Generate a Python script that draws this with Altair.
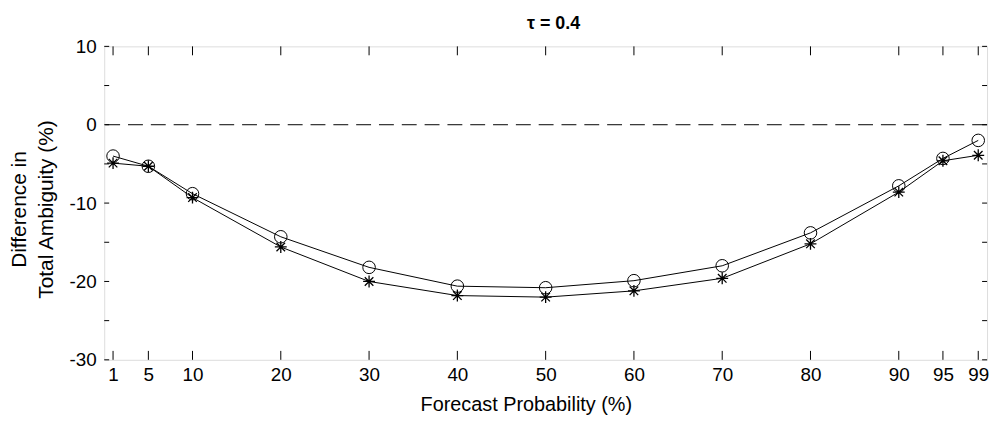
import altair as alt
import pandas as pd

# ---- data ----
prob = [1, 5, 10, 20, 30, 40, 50, 60, 70, 80, 90, 95, 99]
circle_vals = [-4.0, -5.3, -8.8, -14.3, -18.2, -20.6, -20.8, -19.9, -18.0, -13.8, -7.8, -4.3, -2.0]
star_vals = [-4.9, -5.3, -9.3, -15.6, -20.0, -21.8, -22.0, -21.2, -19.6, -15.2, -8.6, -4.6, -3.9]
x_ticks = [1, 5, 10, 20, 30, 40, 50, 60, 70, 80, 90, 95, 99]
y_ticks = [-30, -25, -20, -15, -10, -5, 0, 5, 10]
y_labels = [-30, -20, -10, 0, 10]

W, H = 890, 316
FONT = "Liberation Sans"

df_c = pd.DataFrame({"p": prob, "v": circle_vals})
df_s = pd.DataFrame({"p": prob, "v": star_vals})
df_xt = pd.DataFrame({"p": x_ticks})
df_yt = pd.DataFrame({"v": y_ticks})
df_zero = pd.DataFrame({"v": [0]})

xscale = alt.Scale(domain=[0, 100], nice=False, zero=False)
yscale = alt.Scale(domain=[-30, 10], nice=False)

x_axis = alt.Axis(values=x_ticks, ticks=False, grid=False, domain=False,
                  labelFontSize=19, labelFont=FONT, labelColor="black", labelPadding=6,
                  title="Forecast Probability (%)", titleFontSize=20, titleFont=FONT,
                  titleFontWeight="normal", titleColor="black", titlePadding=10,
                  titleX=W / 2 - 20,
                  labelFlush=False, labelOverlap=False)
y_axis = alt.Axis(values=y_labels, ticks=False, grid=False, domain=False,
                  labelFontSize=19, labelFont=FONT, labelColor="black", labelPadding=8,
                  labelExpr="datum.value + ''",
                  title=["Difference in", "Total Ambiguity (%)"], titleFontSize=21,
                  titleFont=FONT, titleFontWeight="normal", titleColor="black",
                  titleAngle=-90, titleX=-75, titleY=164, titleAlign="center",
                  titleBaseline="bottom", titleLineHeight=27,
                  labelFlush=False, labelOverlap=False)

star_path = "M-1,0L1,0M0,-1L0,1M-0.72,-0.72L0.72,0.72M-0.72,0.72L0.72,-0.72"

zero_line = alt.Chart(df_zero).mark_rule(color="black", strokeWidth=1, strokeDash=[15, 8]).encode(
    y=alt.Y("v:Q", scale=yscale, axis=y_axis)
)

line_c = alt.Chart(df_c).mark_line(color="black", strokeWidth=1).encode(
    x=alt.X("p:Q", scale=xscale, axis=x_axis),
    y=alt.Y("v:Q", scale=yscale, axis=y_axis),
)
pts_c = alt.Chart(df_c).mark_point(shape="circle", filled=False, color="black",
                                   strokeWidth=1, size=160, opacity=1).encode(
    x=alt.X("p:Q", scale=xscale), y=alt.Y("v:Q", scale=yscale)
)
line_s = alt.Chart(df_s).mark_line(color="black", strokeWidth=1).encode(
    x=alt.X("p:Q", scale=xscale), y=alt.Y("v:Q", scale=yscale)
)
pts_s = alt.Chart(df_s).mark_point(shape=star_path, filled=False, color="black",
                                   strokeWidth=1.3, size=144, opacity=1).encode(
    x=alt.X("p:Q", scale=xscale), y=alt.Y("v:Q", scale=yscale)
)

tick_bottom = alt.Chart(df_xt).mark_rule(color="black", strokeWidth=1).encode(
    x=alt.X("p:Q", scale=xscale), y=alt.value(H), y2=alt.value(H - 9)
)
tick_top = alt.Chart(df_xt).mark_rule(color="black", strokeWidth=1).encode(
    x=alt.X("p:Q", scale=xscale), y=alt.value(0), y2=alt.value(9)
)
tick_left = alt.Chart(df_yt).mark_rule(color="black", strokeWidth=1).encode(
    y=alt.Y("v:Q", scale=yscale), x=alt.value(0), x2=alt.value(5)
)
tick_right = alt.Chart(df_yt).mark_rule(color="black", strokeWidth=1).encode(
    y=alt.Y("v:Q", scale=yscale), x=alt.value(W), x2=alt.value(W - 5)
)

chart = alt.layer(
    line_c, zero_line, line_s, pts_c, pts_s,
    tick_bottom, tick_top, tick_left, tick_right,
).properties(
    width=W, height=H,
    title=alt.TitleParams("τ = 0.4", fontSize=18, fontWeight="bold", font=FONT,
                          color="black", anchor="middle", frame="group", offset=5, dx=8),
    autosize=alt.AutoSizeParams(type="none"),
    padding={"left": 97, "top": 37, "right": 8, "bottom": 60},
).configure_view(
    stroke="black", strokeWidth=1
).configure(background="white")

chart.save("out.html", embed_options={"renderer": "svg", "actions": False})
